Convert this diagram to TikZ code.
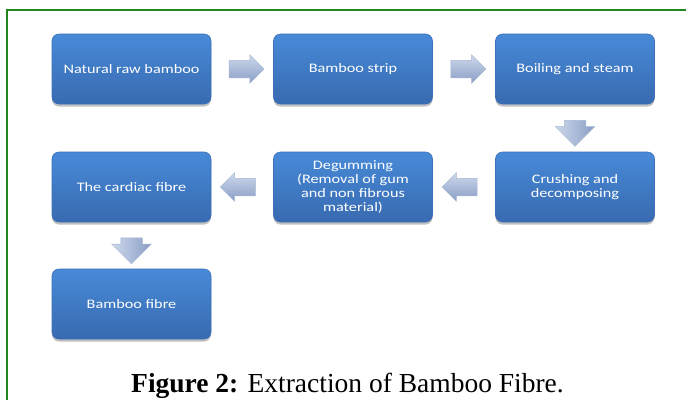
\documentclass[tikz,border=0pt]{standalone}
\usepackage{fontspec}
\setmainfont{Liberation Serif}
\newfontfamily\boxfont[FakeStretch=1.25]{Carlito}
\usetikzlibrary{shapes.arrows,shadows,calc}
\definecolor{boxtop}{RGB}{72,138,216}
\definecolor{boxbot}{RGB}{56,106,176}
\definecolor{boxline}{RGB}{60,112,182}
\definecolor{arrtop}{RGB}{205,216,236}
\definecolor{arrbot}{RGB}{138,158,196}
\definecolor{arrline}{RGB}{165,182,210}
\definecolor{frame}{RGB}{30,135,30}
\tikzset{
  stepbox/.style={rounded corners=7pt, minimum width=159pt, minimum height=70pt,
    top color=boxtop, bottom color=boxbot, draw=boxline, line width=0.6pt,
    text=white, align=center, inner sep=2pt,
    font=\boxfont\fontsize{13pt}{14pt}\selectfont,
    drop shadow={shadow xshift=0pt, shadow yshift=-2.5pt, opacity=0.35, fill=black!70}},
  flowarrow/.style={single arrow, 
    top color=arrtop, bottom color=arrbot, draw=arrline, line width=0.5pt,
    single arrow head indent=0pt},
  harrow/.style={flowarrow, inner xsep=0pt, inner ysep=8.5pt, minimum height=35pt,
    minimum width=28pt, single arrow head extend=5.5pt},
  varrow/.style={flowarrow, inner xsep=10.5pt, inner ysep=0pt, minimum height=26pt,
    minimum width=39pt, single arrow head extend=9pt,
    shape border rotate=270, left color=arrtop, right color=arrbot}
}
\begin{document}
\begin{tikzpicture}[x=1pt,y=-1pt]
\useasboundingbox (0,0) rectangle (686,400);
\fill[white] (0,0) rectangle (686,400);
\draw[frame, line width=2pt] (7,400) -- (7,10) -- (686,10);
\node[stepbox] (n1) at (131.5,69) {Natural raw bamboo};
\node[stepbox] (n2) at (353,69) {Bamboo strip};
\node[stepbox] (n3) at (575,69) {Boiling and steam};
\node[stepbox] (n4) at (575,187) {Crushing and\\decomposing};
\node[stepbox] (n5) at (353,187) {Degumming\\(Removal of gum\\and non fibrous\\material)};
\node[stepbox] (n6) at (131.5,187) {The cardiac fibre};
\node[stepbox] (n7) at (131.5,304) {Bamboo fibre};
\node[harrow] (a1) at ($(n1.east)!0.5!(n2.west)$) {};
\node[harrow] (a2) at ($(n2.east)!0.5!(n3.west)$) {};
\node[varrow] (a3) at ($(n3.south)!0.5!(n4.north)$) {};
\node[harrow, shape border rotate=180] (a4) at ($(n4.west)!0.5!(n5.east)$) {};
\node[harrow, shape border rotate=180] (a5) at ($(n5.west)!0.5!(n6.east)$) {};
\node[varrow] (a6) at ($(n6.south)!0.5!(n7.north)$) {};
\node[font=\fontsize{27.5pt}{32pt}\selectfont, anchor=base] (cap) at (347.5,392) {\textbf{Figure 2:} Extraction of Bamboo Fibre.};
\end{tikzpicture}
\end{document}
